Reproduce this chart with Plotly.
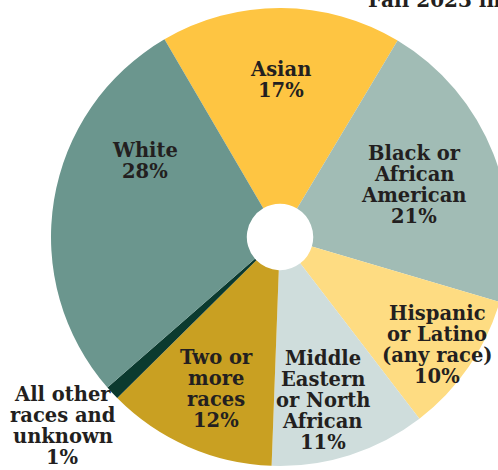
import math
import plotly.graph_objects as go

# ---- data ----
categories = ["Asian", "Black or African American", "Hispanic or Latino (any race)",
              "Middle Eastern or North African", "Two or more races",
              "All other races and unknown", "White"]
label_lines = [["Asian"], ["Black or", "African", "American"], ["Hispanic", "or Latino", "(any race)"],
               ["Middle", "Eastern", "or North", "African"], ["Two or", "more", "races"],
               ["All other", "races and", "unknown"], ["White"]]
values = [17, 21, 10, 11, 12, 1, 28]
colors = ["#FEC542", "#A1BCB5", "#FEDC82", "#CFDDDC", "#C9A022", "#0B3A2F", "#6B968E"]
title_text = "Fall 2023 in"

# ---- layout constants ----
W, H = 520, 470
CX, CY, R = 280, 237, 229
ROT = -30.3
HOLE = 0.145
FONT = "DejaVu Serif"
TXT = "#231F20"
FS = 19.5
LINE = 21
label_r = [157, 144, 191, 169, 165, 288, 155]
label_nudge = [0, 0, 0, 3, -1, 1.8, 20]

fig = go.Figure(go.Pie(
    labels=categories, values=values, sort=False, direction="clockwise",
    rotation=ROT, hole=HOLE, marker=dict(colors=colors, line=dict(width=0)),
    textinfo="none", hoverinfo="label+percent", showlegend=False,
    domain=dict(x=[(CX - R) / W, (CX + R) / W], y=[(H - CY - R) / H, (H - CY + R) / H]),
))

total = sum(values)
cum = 0
anns = []
for i, v in enumerate(values):
    mid = ROT + (cum + v / 2) / total * 360 + label_nudge[i]
    cum += v
    a = math.radians(mid)
    px = CX + label_r[i] * math.sin(a)
    py = CY - label_r[i] * math.cos(a)
    lines = label_lines[i] + [f"{round(v / total * 100)}%"]
    n = len(lines)
    for j, t in enumerate(lines):
        ly = py + (j - (n - 1) / 2) * LINE
        anns.append(dict(x=px / W, y=1 - ly / H, xref="paper", yref="paper", text=f"<b>{t}</b>",
                         showarrow=False, xanchor="center", yanchor="middle",
                         font=dict(family=FONT, size=FS, color=TXT)))

anns.append(dict(x=366 / W, y=1.0, xref="paper", yref="paper", text=f"<b>{title_text}</b>",
                 showarrow=False, xanchor="left", yanchor="middle",
                 font=dict(family=FONT, size=20, color=TXT)))

fig.update_layout(width=W, height=H, margin=dict(l=0, r=0, t=0, b=0),
                  paper_bgcolor="white", plot_bgcolor="white", annotations=anns)

fig.write_html("out.html", config={"displayModeBar": False},
               post_script="document.body.style.margin='0';document.body.style.overflow='hidden';document.documentElement.style.overflow='hidden';")
